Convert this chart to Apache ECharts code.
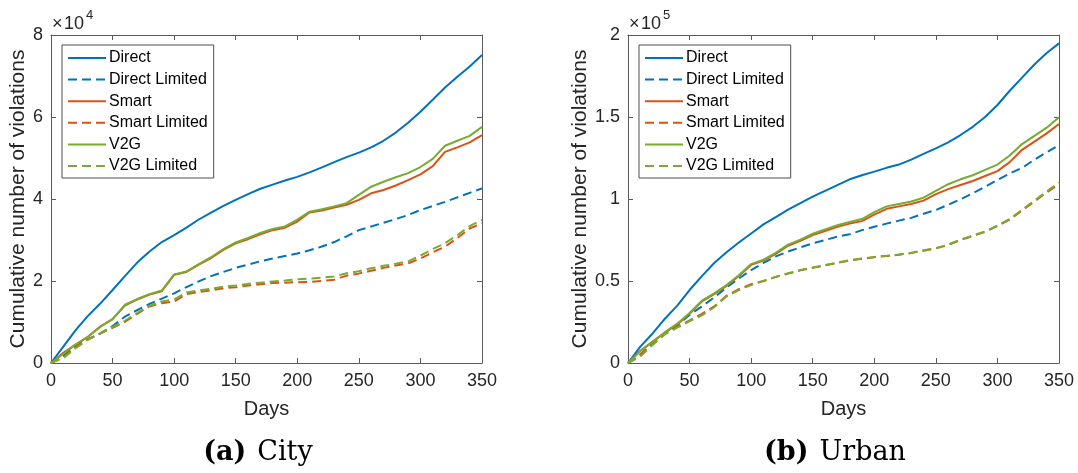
<!DOCTYPE html>
<html>
<head>
<meta charset="utf-8">
<script src="https://cdn.jsdelivr.net/npm/echarts@6/dist/echarts.min.js"></script>
<style>
  html, body { margin: 0; padding: 0; background: #fff; }
  #chart { width: 1078px; height: 473px; }
</style>
</head>
<body>
<div id="chart"></div>
<script>
// Simulation days (sampled every 10 days)
const days = [0,10,20,30,40,50,60,70,80,90,100,110,120,130,140,150,160,170,180,190,200,210,220,230,240,250,260,270,280,290,300,310,320,330,340,350];

const seriesNames = ['Direct', 'Direct Limited', 'Smart', 'Smart Limited', 'V2G', 'V2G Limited'];

// City: cumulative number of violations
const cityDirect = [0,4000,8000,11500,14500,17800,21200,24500,27200,29500,31200,33000,35000,36700,38300,39800,41200,42500,43500,44500,45400,46500,47700,49000,50200,51300,52600,54200,56200,58600,61300,64200,67200,69800,72300,75100];
const cityDirectLimited = [0,1800,4200,5800,7200,9000,11300,12900,14400,15700,17000,18500,19900,21200,22200,23200,24000,24800,25500,26100,26700,27500,28400,29500,30900,32400,33300,34200,35100,36100,37300,38300,39300,40400,41500,42600];
const citySmart = [0,2500,4500,6400,8900,10700,14000,15500,16700,17500,21500,22200,24000,25600,27600,29200,30200,31400,32400,33000,34500,36700,37200,37900,38600,39800,41400,42200,43300,44600,46000,48000,51500,52600,53800,55600];
const citySmartLimited = [0,1500,3800,5800,7200,8600,10000,12000,13800,14600,15000,16800,17300,17700,18200,18500,18900,19200,19500,19600,19700,19800,20000,20300,21300,21800,22500,23200,23800,24300,25500,27000,28400,30500,32800,34100];
const cityV2G = [0,2200,4500,6400,8800,10700,14200,15600,16800,17700,21600,22300,24100,25800,27800,29400,30500,31700,32700,33300,35000,36900,37500,38200,39000,41000,43000,44200,45300,46300,47800,49800,53000,54200,55400,57600];
const cityV2GLimited = [0,1200,3600,5700,7200,8800,10300,12200,14000,15000,15500,17200,17700,18100,18600,18900,19300,19600,19900,20100,20400,20600,20800,21100,21900,22400,23100,23700,24200,24800,26200,27800,29200,31200,33400,34900];

// Urban: cumulative number of violations
const urbanDirect = [0,10000,18000,27000,35000,44500,53000,61000,67500,73500,79000,84500,89000,93500,97500,101400,105000,108500,112000,114500,116700,119000,121000,124000,127500,130900,134500,139000,144000,150000,157300,166000,174000,182000,189000,194900];
const urbanDirectLimited = [0,5000,12000,18000,23000,29300,34500,40000,46000,51500,56700,61000,65000,68000,70500,73000,75000,77000,78500,81000,83100,85000,86800,88500,91000,93300,96500,99800,103500,107500,111600,115500,119000,124000,128500,132900];
const urbanSmart = [0,7500,13000,18500,23500,30000,37500,42000,47000,53000,59800,62500,66500,71500,74500,78000,80500,83000,85000,86500,90500,94000,95500,97000,99000,103000,106000,108500,111000,114000,117000,122500,130000,135000,140000,145700];
const urbanSmartLimited = [0,5000,12000,18000,22000,26000,30000,34500,41000,45000,48000,50000,52500,54500,56500,58000,59500,61000,62500,63500,64500,65200,66000,67000,68500,69900,72000,75000,77500,80000,83500,87500,93000,98500,104000,109100];
const urbanV2G = [0,7200,13000,18800,24000,30500,38000,42500,47500,53500,60300,63000,67200,72200,75200,78800,81500,84000,86000,87800,92000,95500,97000,98500,100800,105000,109000,112000,114500,117800,121000,126500,133500,138500,143500,149800];
const urbanV2GLimited = [0,4000,11000,17500,21500,25500,29000,34000,40500,44500,47500,50000,52500,54700,56700,58200,59700,61200,62700,63700,64700,65400,66200,67200,68700,70000,72200,75200,77700,80200,83800,87800,93400,99000,104600,110000];

// Axis tick setup
const xTicks = { min: 0, max: 350, interval: 50 };
const cityY = { min: 0, max: 80000, interval: 20000, scale: 10000, exp: '4' };
const urbanY = { min: 0, max: 200000, interval: 50000, scale: 100000, exp: '5' };

const colors = { Direct: '#0072BD', Smart: '#D95319', V2G: '#77AC30' };
const AXIS_COLOR = '#5a5a5a';
const TEXT_COLOR = '#262626';
const SANS = 'Liberation Sans, Arial, Helvetica, sans-serif';

const grids = [
  { left: 51, top: 35, width: 431, height: 328 },
  { left: 628, top: 35, width: 431, height: 328 }
];

function pairs(vals) {
  return days.map((d, i) => [d, vals[i]]);
}

function makeSeries(gridIdx, sets) {
  return seriesNames.map((name, k) => {
    const base = name.split(' ')[0];
    const dashed = name.indexOf('Limited') >= 0;
    return {
      name: name,
      type: 'line',
      xAxisIndex: gridIdx * 2,
      yAxisIndex: gridIdx * 2,
      data: pairs(sets[k]),
      symbol: 'none',
      showSymbol: false,
      smooth: false,
      animation: false,
      z: 3 + k,
      lineStyle: {
        color: colors[base],
        width: 2,
        type: dashed ? [9, 5] : 'solid'
      },
      itemStyle: { color: colors[base] },
      emphasis: { disabled: true }
    };
  });
}

function xAxes(gridIdx) {
  const common = {
    gridIndex: gridIdx,
    type: 'value',
    min: xTicks.min, max: xTicks.max, interval: xTicks.interval,
    splitLine: { show: false },
    axisLine: { show: true, onZero: false, lineStyle: { color: AXIS_COLOR, width: 1 } },
    axisTick: { show: true, inside: true, length: 5, lineStyle: { color: AXIS_COLOR } }
  };
  return [
    Object.assign({}, common, {
      position: 'bottom',
      name: 'Days',
      nameLocation: 'middle',
      nameGap: 36,
      nameTextStyle: { fontFamily: SANS, fontSize: 20, color: TEXT_COLOR },
      axisLabel: { show: true, margin: 9, fontFamily: SANS, fontSize: 18, color: TEXT_COLOR }
    }),
    Object.assign({}, common, {
      position: 'top',
      axisLabel: { show: false }
    })
  ];
}

function yAxes(gridIdx, cfg, nameGap) {
  const common = {
    gridIndex: gridIdx,
    type: 'value',
    min: cfg.min, max: cfg.max, interval: cfg.interval,
    splitLine: { show: false },
    axisLine: { show: true, onZero: false, lineStyle: { color: AXIS_COLOR, width: 1 } },
    axisTick: { show: true, inside: true, length: 5, lineStyle: { color: AXIS_COLOR } }
  };
  return [
    Object.assign({}, common, {
      position: 'left',
      name: 'Cumulative number of violations',
      nameLocation: 'middle',
      nameGap: nameGap,
      nameTextStyle: { fontFamily: SANS, fontSize: 21, color: TEXT_COLOR },
      axisLabel: {
        show: true, margin: 8, fontFamily: SANS, fontSize: 18, color: TEXT_COLOR,
        formatter: v => String(+(v / cfg.scale).toFixed(2))
      }
    }),
    Object.assign({}, common, {
      position: 'right',
      axisLabel: { show: false }
    })
  ];
}

function legendFor(gridIdx) {
  return {
    data: seriesNames,
    orient: 'vertical',
    left: grids[gridIdx].left + 11,
    top: 45,
    padding: [5, 6, 4, 5],
    itemWidth: 38,
    itemHeight: 16,
    itemGap: 5.6,
    backgroundColor: '#ffffff',
    borderColor: '#4d4d4d',
    borderWidth: 1,
    borderRadius: 0,
    selectedMode: false,
    // keys show only the line sample
    itemStyle: { opacity: 0 },
    textStyle: { fontFamily: SANS, fontSize: 16, color: '#000', padding: [0, 0, 0, -2] }
  };
}

// Exponent marker above each y axis, plus sub-figure captions
function exponentText(x, exp) {
  return [
    { type: 'text', left: x, top: 15, style: { text: '×', font: '18px ' + SANS, fill: TEXT_COLOR } },
    { type: 'text', left: x + 12, top: 15, style: { text: '10', font: '18px ' + SANS, fill: TEXT_COLOR } },
    { type: 'text', left: x + 34, top: 9, style: { text: exp, font: '13px ' + SANS, fill: TEXT_COLOR } }
  ];
}

function caption(cx, label, word) {
  return {
    type: 'text',
    x: cx, y: 453,
    style: {
      text: '{b|' + label + '}{g| }{n|' + word + '}',
      align: 'center',
      verticalAlign: 'middle',
      rich: {
        b: { fontFamily: 'DejaVu Serif, serif', fontSize: 27, fontWeight: 'bold', fill: '#000' },
        g: { fontFamily: 'DejaVu Serif, serif', fontSize: 27, width: 11 },
        n: { fontFamily: 'DejaVu Serif, serif', fontSize: 27, fill: '#000' }
      }
    }
  };
}

const chart = echarts.init(document.getElementById('chart'), null, { renderer: 'canvas' });

chart.setOption({
  backgroundColor: '#ffffff',
  animation: false,
  grid: grids.map(g => Object.assign({ containLabel: false, show: false }, g)),
  xAxis: [...xAxes(0), ...xAxes(1)],
  yAxis: [...yAxes(0, cityY, 22), ...yAxes(1, urbanY, 37)],
  legend: [legendFor(0), legendFor(1)],
  series: [
    ...makeSeries(0, [cityDirect, cityDirectLimited, citySmart, citySmartLimited, cityV2G, cityV2GLimited]),
    ...makeSeries(1, [urbanDirect, urbanDirectLimited, urbanSmart, urbanSmartLimited, urbanV2G, urbanV2GLimited])
  ],
  graphic: [
    ...exponentText(52, cityY.exp),
    ...exponentText(629, urbanY.exp),
    caption(258, '(a)', 'City'),
    caption(835, '(b)', 'Urban')
  ]
});
</script>
</body>
</html>
